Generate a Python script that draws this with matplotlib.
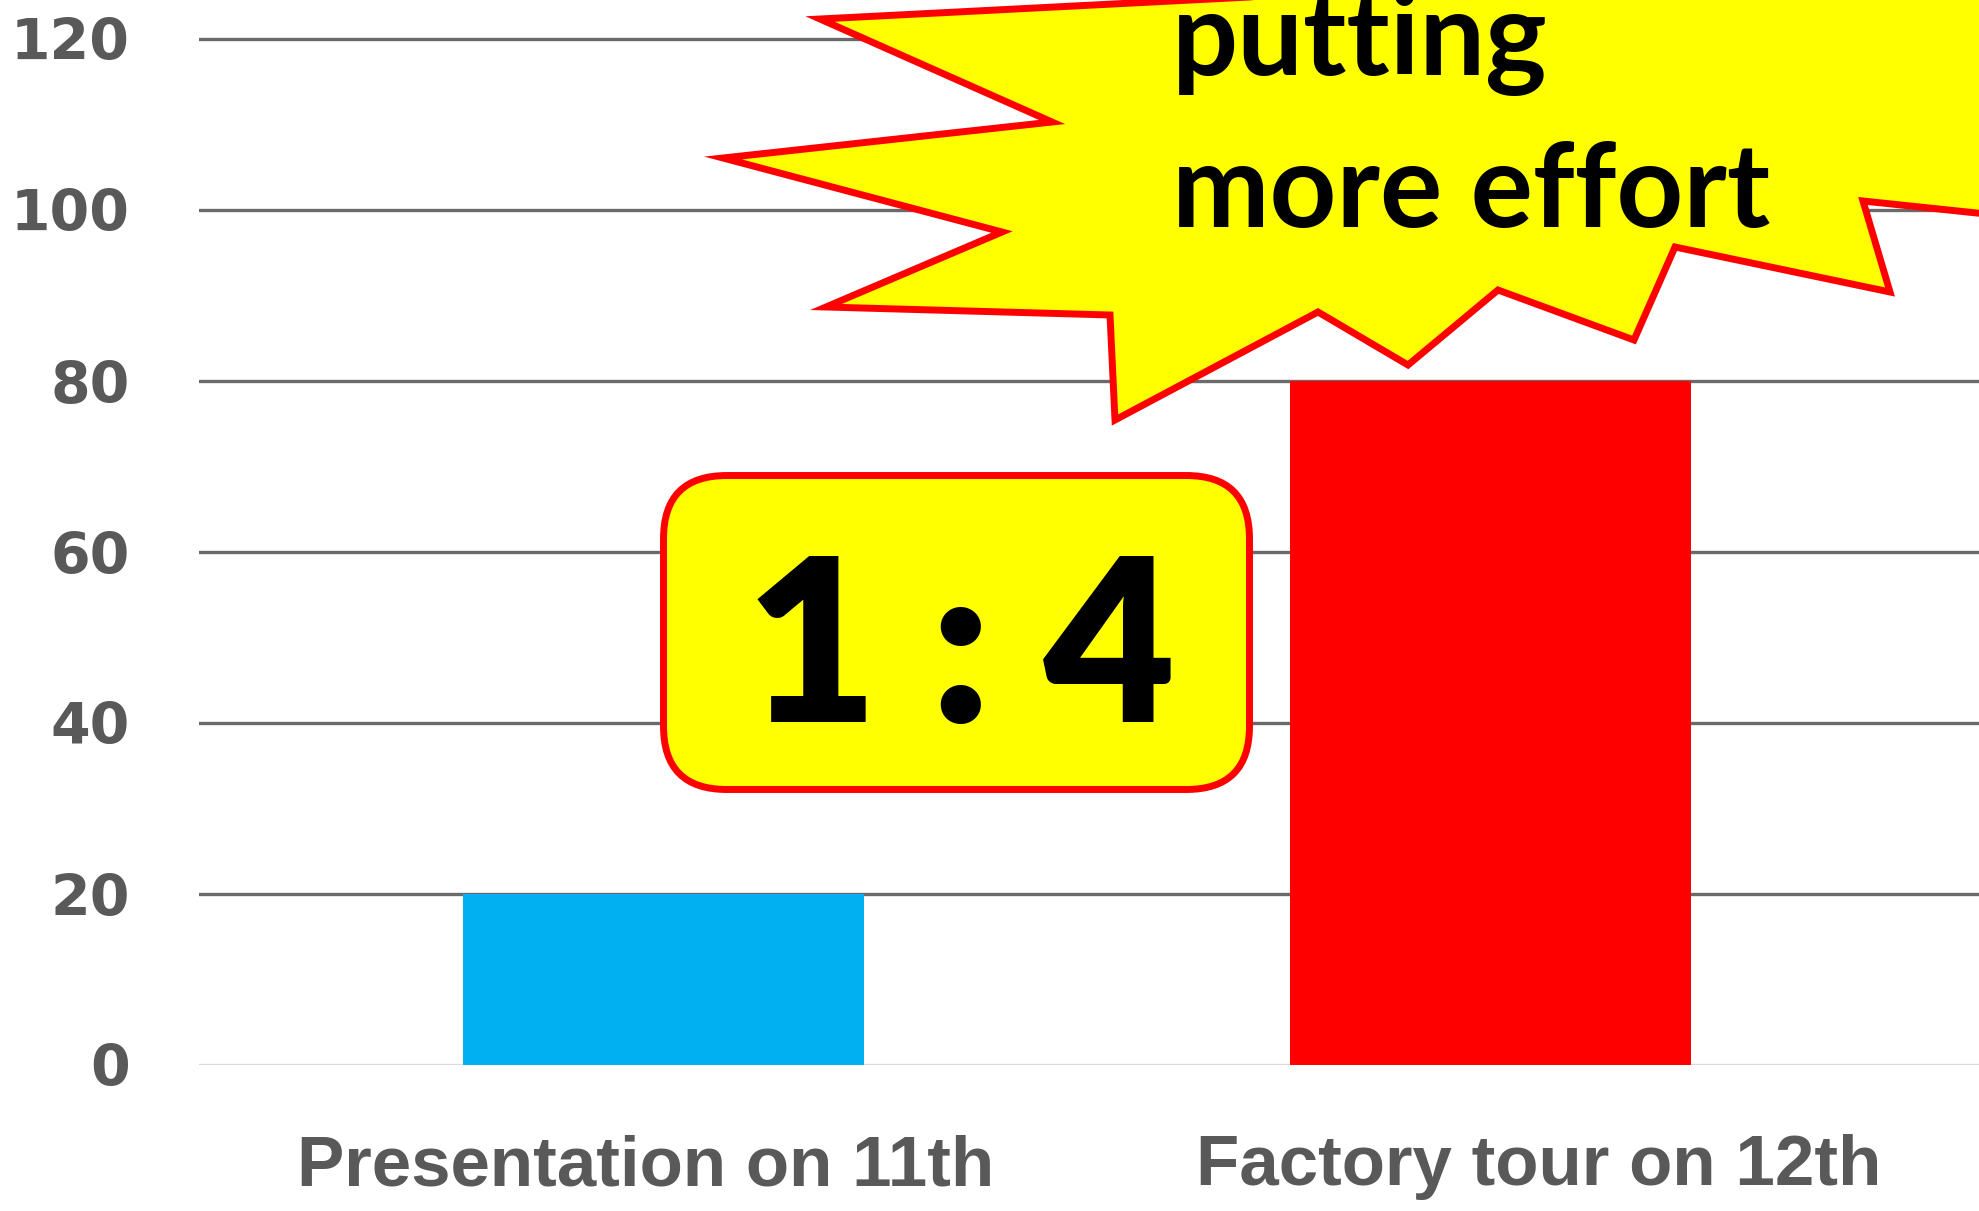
import matplotlib
matplotlib.use('Agg')
import matplotlib.pyplot as plt
import matplotlib.transforms as mtransforms
from matplotlib.patches import Polygon, FancyBboxPatch

# data
categories = ['Presentation on 11th', 'Factory tour on 12th']
values = [20, 80]
bar_colors = ['#00B0F0', '#FF0000']
y_ticks = [0, 20, 40, 60, 80, 100, 120]

ratio_text = '1 : 4'
burst_lines = ['putting', 'more effort']

W, H = 1979, 1211

# 装饰图形的像素位置 (左上角为原点)
burst_px = [(1250, -3), (820, 19), (1052, 122), (723, 158), (1002, 232),
            (826, 307), (1110, 315), (1115, 420), (1318, 312), (1408, 365),
            (1498, 290), (1634, 340), (1675, 247), (1890, 292), (1863, 201),
            (2100, 226), (2100, -100)]
label_shift_px = [-18, 48]


def fx(x):
    return x / W


def fy(y):
    return 1 - y / H


fig = plt.figure(figsize=(W / 100, H / 100), dpi=100)
ax = fig.add_axes([fx(199), fy(1065), fx(W - 199), 1065 / H])

x = list(range(len(categories)))
ax.bar(x, values, width=0.485, color=bar_colors, zorder=2)

ax.set_xlim(-0.5617, 1.5907)
ax.set_ylim(0, 1065 / 8.55)
ax.set_yticks(y_ticks)
ax.set_xticks(x)
ax.set_xticklabels(categories, fontfamily='Liberation Sans', fontweight='bold',
                   fontsize=51, color='#595959')
ax.set_yticklabels([str(v) for v in y_ticks], fontfamily='DejaVu Sans',
                   fontweight='heavy', fontsize=41, color='#595959')
ax.tick_params(axis='both', length=0)
ax.tick_params(axis='x', pad=50)
ax.tick_params(axis='y', pad=50)
for s in ax.spines.values():
    s.set_visible(False)

# 标签位置微调
for lab, dx in zip(ax.get_xticklabels(), label_shift_px):
    lab.set_transform(lab.get_transform() +
                      mtransforms.ScaledTranslation(dx / 100, 0, fig.dpi_scale_trans))

for v in y_ticks:
    ax.axhline(v, color='#d9d9d9' if v == 0 else '#6a6a6a', lw=2.4, zorder=1)

# starburst
burst = Polygon([(fx(a), fy(b)) for a, b in burst_px], closed=True,
                facecolor='#FFFF00', edgecolor='#FF0000', lw=5,
                transform=fig.transFigure, zorder=5, clip_on=False)
fig.patches.append(burst)
fig.text(fx(1172), fy(75), burst_lines[0], fontfamily='Lato', fontweight='bold',
         fontsize=84, va='baseline', ha='left', color='black', zorder=6)
fig.text(fx(1172), fy(227), burst_lines[1], fontfamily='Lato', fontweight='bold',
         fontsize=84, va='baseline', ha='left', color='black', zorder=6)

# 1:4 box
box = FancyBboxPatch((fx(663 + 48), fy(787 - 45)), fx(1250 - 663 - 96), (787 - 478 - 90) / H,
                     boxstyle='round,pad=0.024,rounding_size=0.032',
                     facecolor='#FFFF00', edgecolor='#FF0000', lw=5,
                     transform=fig.transFigure, zorder=5, mutation_aspect=W / H)
fig.patches.append(box)
fig.text(fx(961), fy(655), ratio_text, fontfamily='Lato', fontweight='heavy',
         fontsize=164, va='center', ha='center', color='black', zorder=6)

fig.savefig('out.png', dpi=100)
